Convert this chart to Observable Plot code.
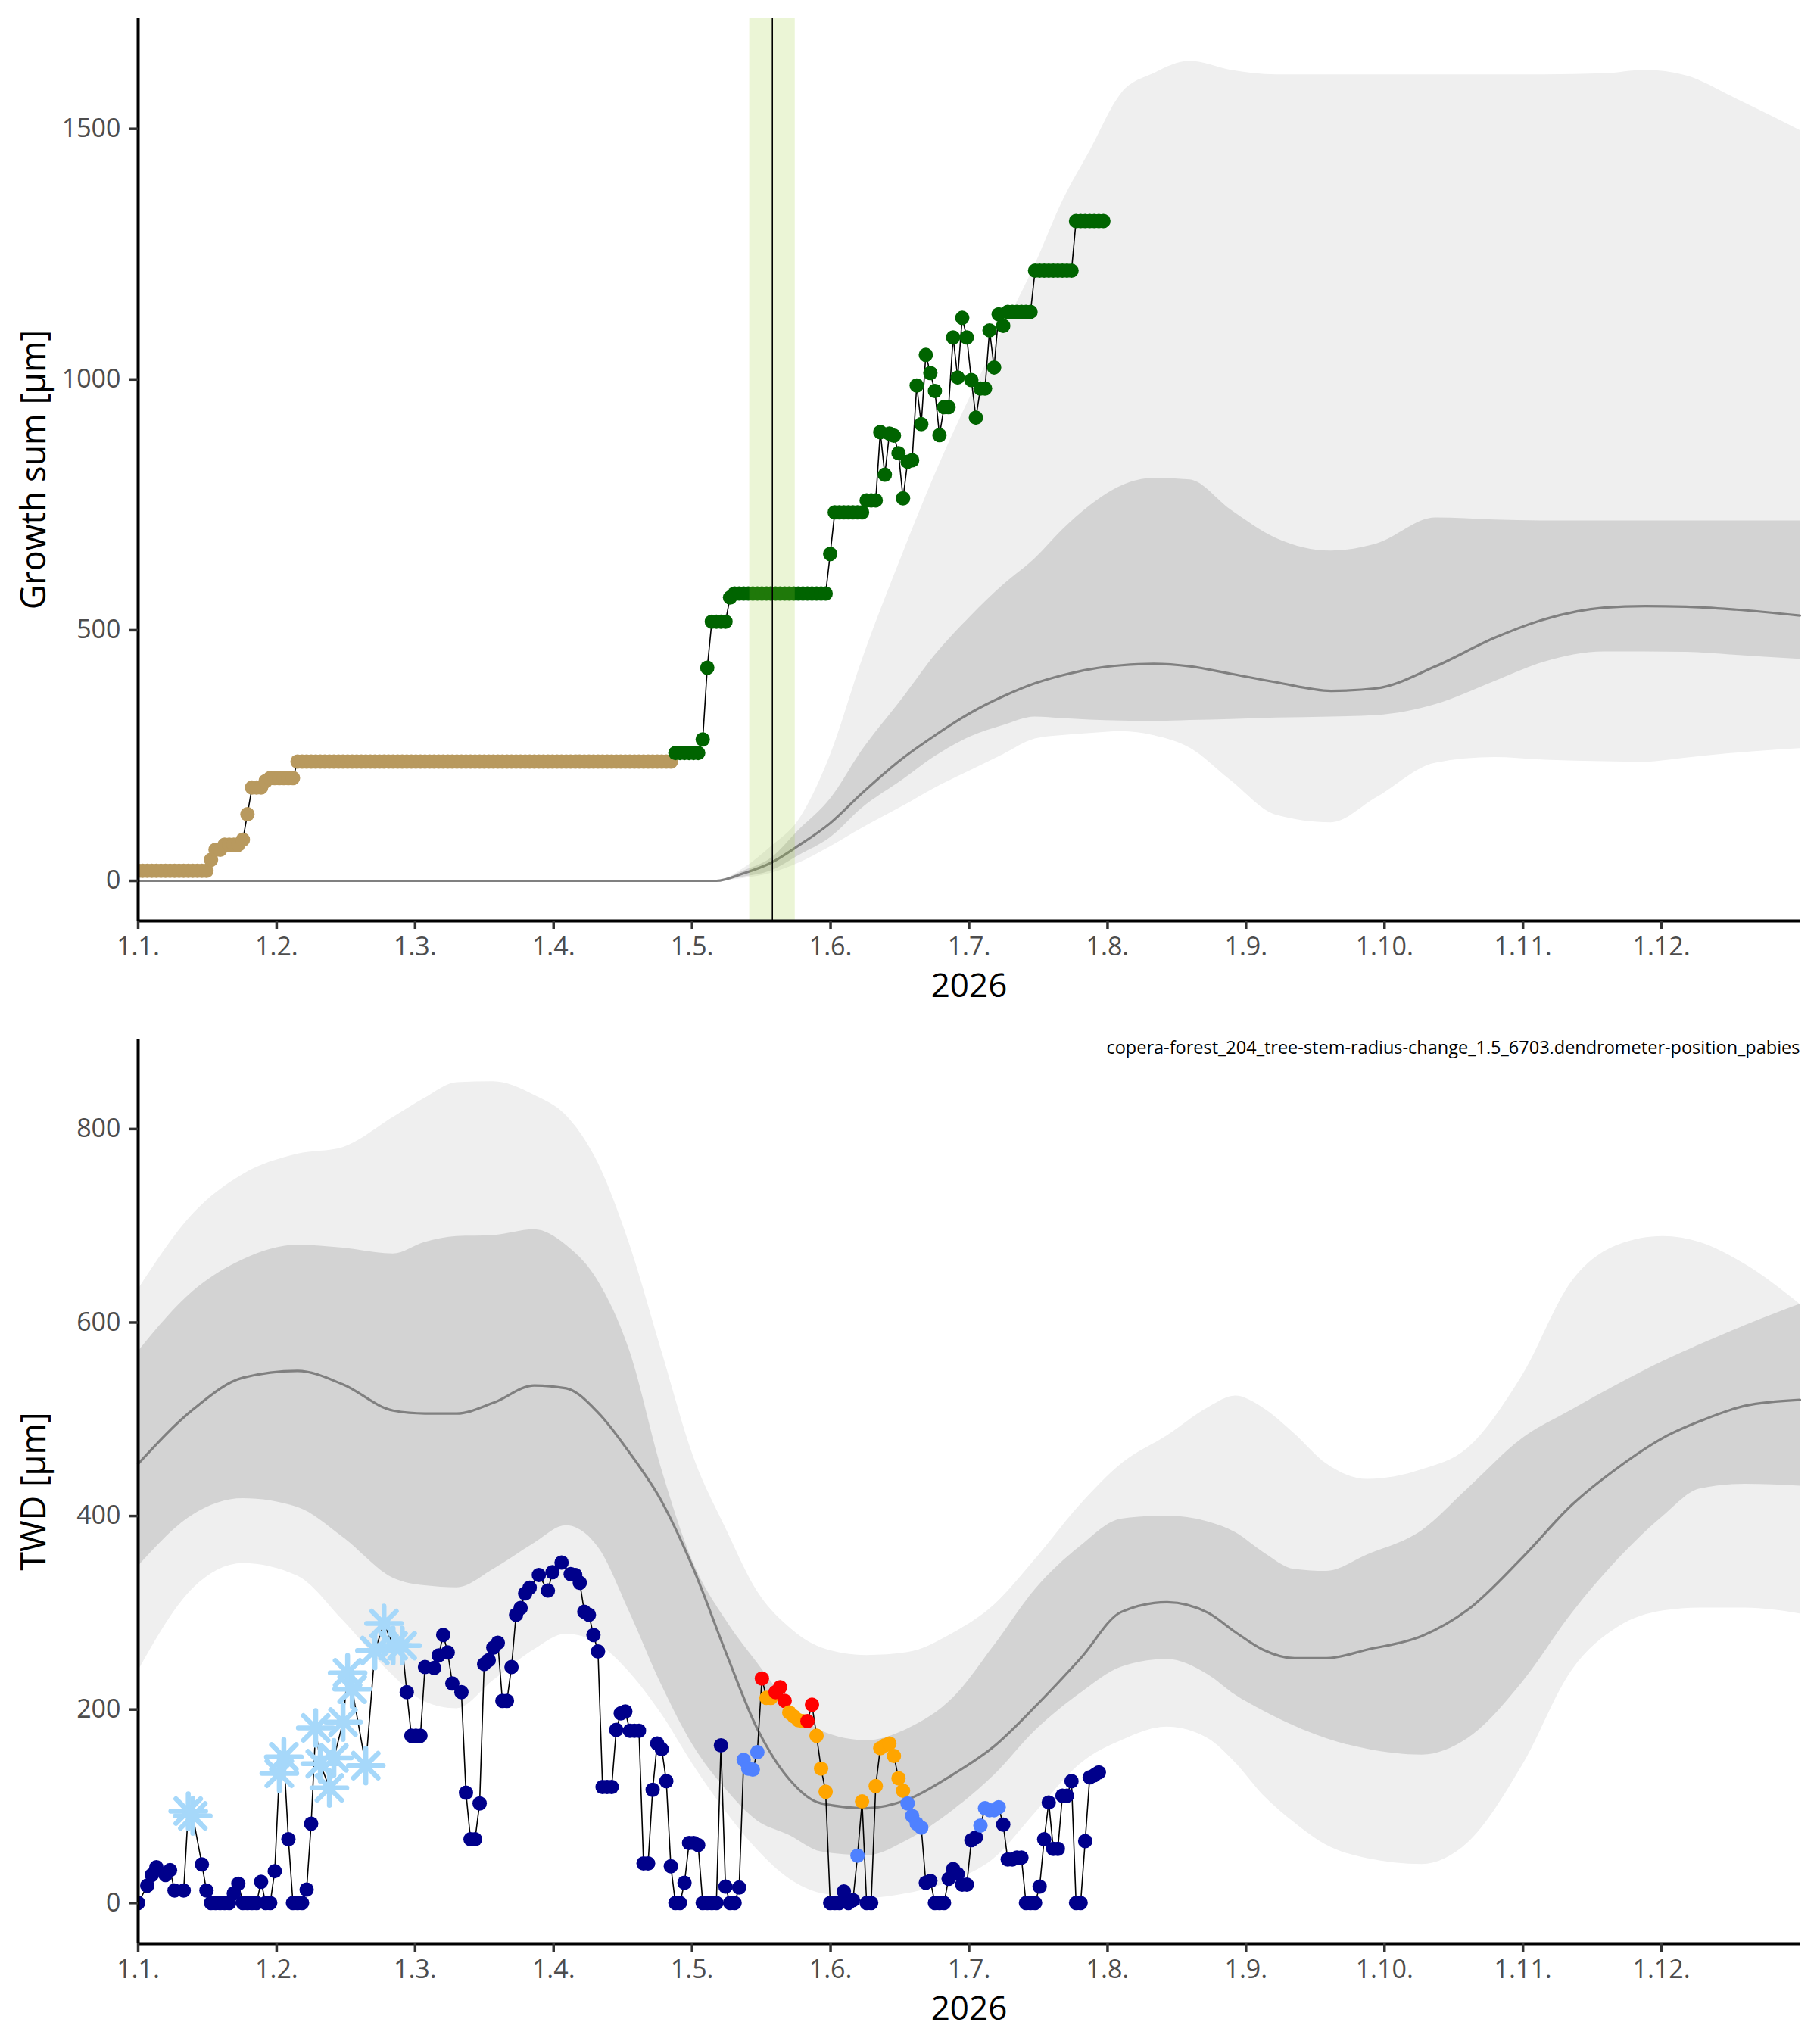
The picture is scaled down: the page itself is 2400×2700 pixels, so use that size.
<!DOCTYPE html>
<html>
<head>
<meta charset="utf-8">
<script src="https://cdn.jsdelivr.net/npm/d3@7"></script>
<script src="https://cdn.jsdelivr.net/npm/@observablehq/plot@0.6"></script>
<style>
  body { margin: 0; background: #fff; }
  #chart svg { display: block; }
</style>
</head>
<body>
<div id="chart"></div>
<script>
// ---------- axis ticks ----------
const monthTicks = [0, 30.42, 60.83, 91.25, 121.67, 152.08, 182.5, 212.92, 243.33, 273.75, 304.17, 334.58];
const monthLabels = ["1.1.", "1.2.", "1.3.", "1.4.", "1.5.", "1.6.", "1.7.", "1.8.", "1.9.", "1.10.", "1.11.", "1.12."];
const growthYTicks = [0, 500, 1000, 1500];
const twdYTicks = [0, 200, 400, 600, 800];

// ---------- top panel: growth sum (one value per day, starting 1 Jan) ----------
const growthValue = [
  20,20,20,20,20,20,20,20,20,20,20,20,20,20,20,20,
  42,62,62,72,72,72,72,82,133,186,186,186,199,
  205,205,205,205,205,205,
  238,238,238,238,238,238,238,238,238,238,238,238,238,238,238,238,238,238,238,238,
  238,238,238,238,238,238,238,238,238,238,238,238,238,238,238,238,238,238,238,238,
  238,238,238,238,238,238,238,238,238,238,238,238,238,238,238,238,238,238,238,238,
  238,238,238,238,238,238,238,238,238,238,238,238,238,238,238,238,238,238,238,238,
  238,238,238,
  255,255,255,255,255,255,282,425,517,517,517,517,565,
  573,573,573,573,573,573,573,573,573,573,573,573,573,573,573,573,573,573,573,573,573,
  652,735,735,735,735,735,735,735,759,759,759,
  895,810,892,888,853,763,836,839,988,911,1049,1013,977,889,945,945,1084,1004,1123,1084,
  999,924,982,982,1098,1024,1130,1107,
  1135,1135,1135,1135,1135,1135,
  1217,1217,1217,1217,1217,1217,1217,1217,1217,
  1316,1316,1316,1316,1316,1316,1316
];
const growthFirstGreenDay = 118;
const growthWindow = [134.3, 144.3];
const growthMarkerDay = [139.3];

const growthBandDay = [0,127,133,139,145,152,159,168,175,183,190,197,203,209,216,223,231,240,250,262,272,285,298,309,322,331,340,351,365];
const growthMedian  = [0,0,15,36,70,115,175,245,290,336,368,394,410,422,430,433,428,413,396,379,384,428,485,522,545,548,547,541,529];
const growthInnerHi = [0,0,20,45,100,163,260,365,450,529,590,643,700,748,788,803,800,740,683,658,672,724,720,718,718,718,718,718,718];
const growthInnerLo = [0,0,8,20,50,86,145,202,248,288,310,327,324,321,319,318,320,322,325,327,330,352,398,437,457,457,456,450,442];
const growthOuterHi = [0,0,25,68,120,250,440,654,810,970,1100,1229,1355,1455,1571,1610,1635,1617,1608,1608,1608,1608,1608,1608,1610,1617,1606,1560,1497];
const growthOuterLo = [0,0,5,15,35,68,105,149,185,221,252,283,290,294,298,290,265,200,131,116,166,235,246,241,238,237,245,255,264];

// ---------- bottom panel: TWD ----------
const twdDay = [0,2,3,4,6,7,8,10,11,12,14,15,16,17,18,19,20,21,22,23,24,25,26,27,28,29,30,31,32,33,34,35,36,37,38,39,40,42,43,45,46,47,50,52,54,56,58,
  59,60,61,62,63,65,66,67,68,69,71,72,73,74,75,76,77,78,79,80,81,82,83,84,85,86,88,90,91,93,95,96,97,98,99,100,101,102,103,104,105,106,107,108,109,110,
  111,112,113,114,115,116,117,118,119,120,121,122,123,124,125,126,127,128,129,130,131,132,133,134,135,136,137,138,139,140,141,142,143,144,145,146,147,148,149,150,
  151,152,153,154,155,156,157,158,159,160,161,162,163,164,165,166,167,168,169,170,171,172,173,174,175,176,177,178,179,180,181,182,183,184,185,186,187,188,189,190,
  191,192,193,194,195,196,197,198,199,200,201,202,203,204,205,206,207,208,209,210,211];
const twdValue = [0,18,29,37,29,34,13,13,95,90,40,13,0,0,0,0,0,10,20,0,0,0,0,22,0,0,33,134,151,66,0,0,0,14,82,181,144,119,150,187,238,221,142,261,289,266,266,
  218,173,173,173,244,243,256,277,259,227,218,114,66,66,103,247,251,264,269,209,209,244,298,305,320,326,339,323,342,352,340,339,331,301,298,277,260,120,120,120,179,196,198,178,178,178,
  41,41,117,165,159,126,38,0,0,21,62,62,60,0,0,0,0,163,17,0,0,16,148,139,138,156,232,212,212,218,223,209,197,193,189,188,188,205,173,139,
  115,0,0,0,12,0,3,49,105,0,0,121,160,163,165,152,129,116,103,90,82,78,21,23,0,0,0,25,35,30,19,19,65,68,80,98,96,96,99,81,
  45,45,47,47,0,0,0,17,66,104,56,56,111,111,126,0,0,64,130,132,135];
const twdClass = ["n","n","n","n","n","n","n","n","s","s","n","n","n","n","n","n","n","n","n","n","n","n","n","n","n","n","n","s","s","n","n","n","n","n","n","s","s","s","s","s","s","s","s","s","s","s","s",
  "n","n","n","n","n","n","n","n","n","n","n","n","n","n","n","n","n","n","n","n","n","n","n","n","n","n","n","n","n","n","n","n","n","n","n","n","n","n","n","n","n","n","n","n","n","n",
  "n","n","n","n","n","n","n","n","n","n","n","n","n","n","n","n","n","n","n","n","n","n","b","b","b","b","r","o","o","r","r","r","o","o","o","o","r","r","o","o",
  "o","n","n","n","n","n","n","b","o","n","n","o","o","o","o","o","o","o","b","b","b","b","n","n","n","n","n","n","n","n","n","n","n","n","b","b","b","b","b","n",
  "n","n","n","n","n","n","n","n","n","n","n","n","n","n","n","n","n","n","n","n","n"];
const twdClassColor = {n: "#00008B", s: "#A6D8FA", b: "#4F81FF", o: "#FFA500", r: "#FF0000"};
const twdCaption = "copera-forest_204_tree-stem-radius-change_1.5_6703.dendrometer-position_pabies";

const twdBandDay = [0,12,23,35,45,56,63,70,78,87,94,101,108,115,122,129,136,143,150,160,169,179,188,197,207,216,226,235,241,247,254,261,270,282,292,304,315,325,335,343,353,365];
const twdMedian  = [454,510,543,550,536,509,506,506,517,535,532,507,465,415,345,260,180,128,103,98,107,133,162,203,253,301,311,300,280,262,253,253,262,276,303,357,412,450,481,498,514,520];
const twdInnerHi = [570,632,665,680,677,671,683,689,690,696,680,643,570,448,351,293,248,206,178,168,180,212,266,324,369,397,400,394,383,363,345,343,360,385,428,480,510,536,560,577,597,619];
const twdInnerLo = [348,401,418,409,378,336,328,326,345,372,390,368,300,225,162,118,85,70,53,49,65,96,132,178,217,244,252,236,215,199,183,170,159,153,170,228,300,355,400,428,433,431];
const twdOuterHi = [634,712,753,774,781,812,832,848,849,835,814,765,680,570,461,388,322,285,264,256,259,279,308,355,412,454,483,512,524,512,485,454,438,448,470,545,643,680,689,683,660,619];
const twdOuterLo = [240,325,351,338,292,235,208,201,230,262,278,268,238,195,142,95,55,25,10,5,10,23,46,93,144,168,182,170,145,112,83,60,46,40,62,142,241,285,302,305,305,299];

// ---------- build tables ----------
const growth = growthValue.map((v, i) => ({day: i, value: v, color: i < growthFirstGreenDay ? "#B8995E" : "#006400"}));
const growthBands = growthBandDay.map((d, i) => ({day: d, median: growthMedian[i], innerHi: growthInnerHi[i], innerLo: growthInnerLo[i], outerHi: growthOuterHi[i], outerLo: growthOuterLo[i]}));
const twd = twdDay.map((d, i) => ({day: d, value: twdValue[i], cls: twdClass[i], color: twdClassColor[twdClass[i]]}));
const twdBands = twdBandDay.map((d, i) => ({day: d, median: twdMedian[i], innerHi: twdInnerHi[i], innerLo: twdInnerLo[i], outerHi: twdOuterHi[i], outerLo: twdOuterLo[i]}));

// 8-armed asterisk / snowflake symbol
const snowflake = {
  draw(ctx, size) {
    const r = Math.sqrt(size / Math.PI);
    for (let k = 0; k < 8; k++) {
      const a = k * Math.PI / 4;
      ctx.moveTo(0, 0);
      ctx.lineTo(r * Math.cos(a), r * Math.sin(a));
    }
  }
};

const FONT = "'Open Sans', 'Noto Sans', sans-serif";
const TICKFS = 34;

function frameMarks(yMin, yTicks, yLabel) {
  return [
    Plot.ruleX([0], {stroke: "black", strokeWidth: 4}),
    Plot.ruleY([yMin], {stroke: "black", strokeWidth: 4}),
    Plot.axisX({ticks: monthTicks, tickFormat: d => monthLabels[monthTicks.indexOf(d)], tickSize: 11, tickPadding: 10,
      fontSize: TICKFS, fill: "#4d4d4d", stroke: "#333333", strokeWidth: 3.5, label: null}),
    Plot.axisY({ticks: yTicks, tickFormat: d => String(d), tickSize: 12, tickPadding: 11, fontSize: TICKFS, fill: "#4d4d4d", stroke: "#333333", strokeWidth: 3.5, label: null}),
    Plot.text([yLabel], {text: d => d, frameAnchor: "left", rotate: -90, dx: -137, fontSize: 45, fill: "black", textAnchor: "middle", lineAnchor: "middle"}),
    Plot.text(["2026"], {text: d => d, frameAnchor: "bottom", dy: 86, fontSize: 44, fill: "black", textAnchor: "middle", lineAnchor: "middle"})
  ];
}

const topPanel = Plot.plot({
  width: 2400, height: 1340,
  marginTop: 24, marginBottom: 124, marginLeft: 182, marginRight: 23,
  style: {fontFamily: FONT, background: "white", overflow: "visible"},
  x: {domain: [0, 365]},
  y: {domain: [-80, 1720]},
  color: {type: "identity"},
  marks: [
    Plot.areaY(growthBands, {x: "day", y1: "outerLo", y2: "outerHi", fill: "#efefef", curve: "monotone-x"}),
    Plot.areaY(growthBands, {x: "day", y1: "innerLo", y2: "innerHi", fill: "#d3d3d3", curve: "monotone-x"}),
    Plot.line(growthBands, {x: "day", y: "median", stroke: "#808080", strokeWidth: 3.2, curve: "monotone-x"}),
    Plot.line(growth, {x: "day", y: "value", stroke: "black", strokeWidth: 1.6}),
    Plot.dot(growth, {x: "day", y: "value", r: 9.5, fill: "color", clip: true}),
    Plot.rect([growthWindow], {x1: d => d[0], x2: d => d[1], fill: "#9ACD32", fillOpacity: 0.2}),
    Plot.ruleX(growthMarkerDay, {stroke: "black", strokeWidth: 1.6}),
    ...frameMarks(-80, growthYTicks, "Growth sum [µm]")
  ]
});

const bottomPanel = Plot.plot({
  width: 2400, height: 1360,
  marginTop: 32, marginBottom: 133, marginLeft: 182, marginRight: 23,
  style: {fontFamily: FONT, background: "white", overflow: "visible"},
  x: {domain: [0, 365]},
  y: {domain: [-42, 893]},
  color: {type: "identity"},
  marks: [
    Plot.areaY(twdBands, {x: "day", y1: "outerLo", y2: "outerHi", fill: "#efefef", curve: "monotone-x"}),
    Plot.areaY(twdBands, {x: "day", y1: "innerLo", y2: "innerHi", fill: "#d3d3d3", curve: "monotone-x"}),
    Plot.line(twdBands, {x: "day", y: "median", stroke: "#808080", strokeWidth: 3.2, curve: "monotone-x"}),
    Plot.line(twd, {x: "day", y: "value", stroke: "black", strokeWidth: 1.6}),
    Plot.dot(twd.filter(d => d.cls !== "s"), {x: "day", y: "value", r: 9.5, fill: "color", clip: true}),
    Plot.dot(twd.filter(d => d.cls === "s"), {x: "day", y: "value", r: 23, symbol: snowflake, fill: "none",
      stroke: "color", strokeWidth: 6.5, strokeLinecap: "round"}),
    Plot.text([twdCaption], {text: d => d, frameAnchor: "top-right", dy: 12, fontSize: 23.5, textAnchor: "end", lineAnchor: "middle", fill: "black"}),
    ...frameMarks(-42, twdYTicks, "TWD [µm]")
  ]
});

const chart = document.getElementById("chart");
chart.appendChild(topPanel);
chart.appendChild(bottomPanel);
</script>
</body>
</html>
